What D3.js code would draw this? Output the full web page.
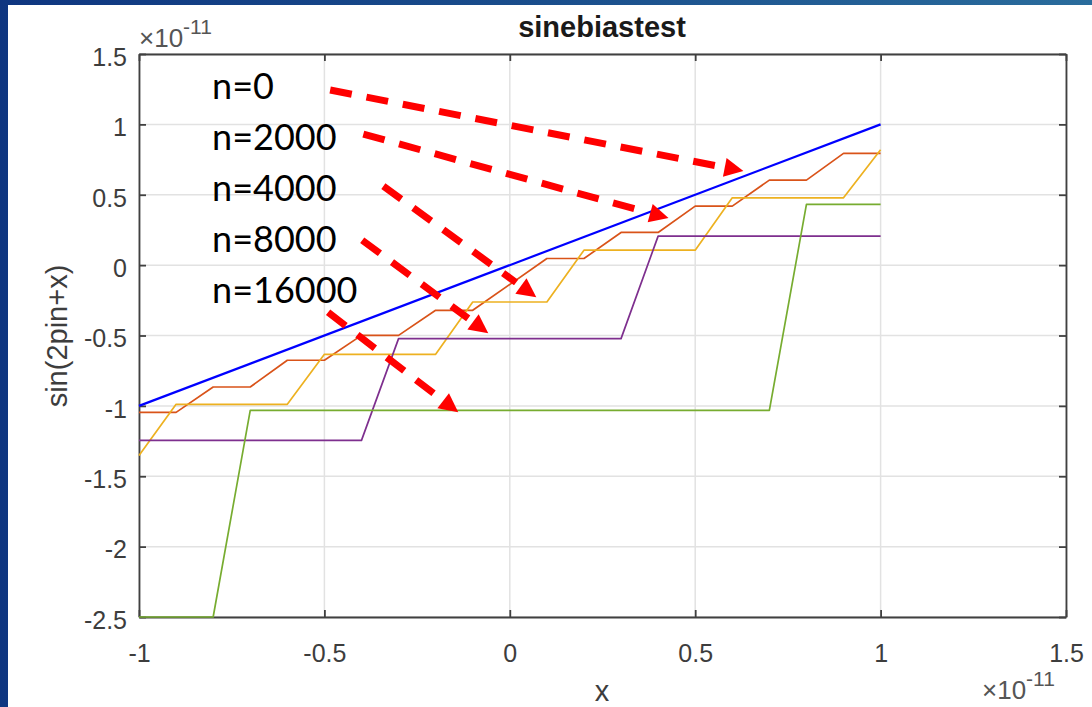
<!DOCTYPE html>
<html><head><meta charset="utf-8">
<script src="https://cdn.jsdelivr.net/npm/d3@7"></script>
<style>body{margin:0;background:#fff}svg{display:block}</style>
</head><body>
<svg id="c" width="1092" height="707"></svg>
<script>
// ---- data (units of 1e-11) ----
const xTicks = [-1, -0.5, 0, 0.5, 1, 1.5];
const yTicks = [-2.5, -2, -1.5, -1, -0.5, 0, 0.5, 1, 1.5];
const seriesNames = ["n=0", "n=2000", "n=4000", "n=8000", "n=16000"];
const seriesColors = ["#0000ff", "#d95319", "#edb120", "#7e2f8e", "#77ac30"];
const n0 = [[-1, -1], [1, 1]];
const n2000 = [[-1,-1.046],[-0.9,-1.046],[-0.8,-0.866],[-0.7,-0.866],[-0.6,-0.676],[-0.5,-0.676],
  [-0.4,-0.499],[-0.3,-0.499],[-0.2,-0.321],[-0.1,-0.321],[0.1,0.047],[0.2,0.047],[0.3,0.232],
  [0.4,0.232],[0.5,0.419],[0.6,0.419],[0.7,0.604],[0.8,0.604],[0.9,0.794],[1.0,0.794]];
const n4000 = [[-1,-1.352],[-0.9,-0.989],[-0.6,-0.989],[-0.5,-0.634],[-0.2,-0.634],[-0.1,-0.262],
  [0.1,-0.262],[0.2,0.106],[0.5,0.106],[0.6,0.478],[0.9,0.478],[1.0,0.82]];
const n8000 = [[-1,-1.245],[-0.4,-1.245],[-0.3,-0.522],[0.3,-0.522],[0.4,0.206],[1,0.206]];
const n16000 = [[-1,-2.5],[-0.8,-2.5],[-0.7,-1.032],[0.7,-1.032],[0.8,0.431],[1,0.431]];
const seriesData = [n0, n2000, n4000, n8000, n16000];
// annotation labels (data coords of text start / baseline)
const labelPos = [[-0.803, 1.18], [-0.803, 0.817], [-0.803, 0.455], [-0.803, 0.092], [-0.803, -0.271]];
// annotation arrows: tail and tip in data coords
const arrowTail = [[-0.4845, 1.244], [-0.395, 0.931], [-0.341, 0.561], [-0.398, 0.177], [-0.490, -0.335]];
const arrowTip  = [[0.630, 0.668], [0.428, 0.334], [0.0715, -0.228], [-0.058, -0.484], [-0.139, -1.046]];

const svg = d3.select("#c");
const W = 1092, H = 707;
const defs = svg.append("defs");
const grad = defs.append("linearGradient").attr("id","bg").attr("x1","0").attr("x2","1").attr("y1","0").attr("y2","0");
grad.append("stop").attr("offset","0").attr("stop-color","#0f3680");
grad.append("stop").attr("offset","0.5").attr("stop-color","#1a4e8c");
grad.append("stop").attr("offset","1").attr("stop-color","#2a6c9c");
svg.append("rect").attr("width",W).attr("height",H).attr("fill","url(#bg)");
svg.append("rect").attr("x",8).attr("y",5).attr("width",W-8).attr("height",H-5).attr("fill","#fff");

const L = 139, R = 1066, T = 54, B = 617;
const x = d3.scaleLinear().domain([-1, 1.5]).range([L, R]);
const y = d3.scaleLinear().domain([-2.5, 1.5]).range([B, T]);

const font = "'Liberation Sans', Arial, Helvetica, sans-serif";
const tickCol = "#3d3d3d";
const fmt = d => String(d);

// grid
const grid = svg.append("g").attr("stroke","#e2e2e2").attr("stroke-width",1.5);
grid.selectAll("line.gx").data(xTicks).join("line")
  .attr("x1",d=>x(d)).attr("x2",d=>x(d)).attr("y1",T).attr("y2",B);
grid.selectAll("line.gy").data(yTicks).join("line")
  .attr("y1",d=>y(d)).attr("y2",d=>y(d)).attr("x1",L).attr("x2",R);

function styleAxis(g){
  g.attr("font-size",null).attr("font-family",null);
  g.select(".domain").attr("stroke","#404040").attr("stroke-width",1.8);
  g.selectAll(".tick line").attr("stroke","#404040").attr("stroke-width",1.8);
  g.selectAll(".tick text").attr("fill",tickCol).style("font-family",font).style("font-size","25px");
}
const xAx = svg.append("g").attr("transform",`translate(0,${B})`)
  .call(d3.axisBottom(x).tickValues(xTicks).tickSizeInner(-7).tickSizeOuter(0).tickPadding(27).tickFormat(fmt));
styleAxis(xAx);
const yAx = svg.append("g").attr("transform",`translate(${L},0)`)
  .call(d3.axisLeft(y).tickValues(yTicks).tickSizeInner(-7).tickSizeOuter(0).tickPadding(12).tickFormat(fmt));
styleAxis(yAx); yAx.selectAll(".tick text").attr("dy","0.45em");
const xTop = svg.append("g").attr("transform",`translate(0,${T})`)
  .call(d3.axisTop(x).tickValues(xTicks).tickSizeInner(-7).tickSizeOuter(0).tickFormat(""));
styleAxis(xTop);
const yRight = svg.append("g").attr("transform",`translate(${R},0)`)
  .call(d3.axisRight(y).tickValues(yTicks).tickSizeInner(-7).tickSizeOuter(0).tickFormat(""));
styleAxis(yRight);

// series
const line = d3.line().x(d=>x(d[0])).y(d=>y(d[1]));
svg.append("g").attr("fill","none").selectAll("path").data(seriesData).join("path")
  .attr("d", line)
  .attr("stroke",(d,i)=>seriesColors[i])
  .attr("stroke-width",(d,i)=> i===0 ? 2.2 : 1.7)
  .attr("stroke-linejoin","round");

// title & labels
svg.append("text").attr("x",602).attr("y",37).attr("text-anchor","middle")
  .style("font-family",font).style("font-size","29px").style("font-weight","bold").attr("fill","#1a1a1a")
  .text("sinebiastest");
svg.append("text").attr("x",602).attr("y",701).attr("text-anchor","middle")
  .style("font-family",font).style("font-size","29px").attr("fill",tickCol).text("x");
svg.append("text").attr("transform","translate(67,336) rotate(-90)").attr("text-anchor","middle")
  .style("font-family",font).style("font-size","29px").attr("fill",tickCol).text("sin(2pin+x)");

function expLabel(px, py){
  const t = svg.append("text").attr("x",px).attr("y",py)
    .style("font-family",font).style("font-size","26px").attr("fill","#555");
  t.append("tspan").text("\u00d710");
  t.append("tspan").attr("dy",-13).style("font-size","21px").text("-11");
}
expLabel(139, 47);
expLabel(982, 699);

// annotations
const ann = svg.append("g");
ann.selectAll("text").data(seriesNames).join("text")
  .attr("x",(d,i)=>x(labelPos[i][0])).attr("y",(d,i)=>y(labelPos[i][1]))
  .style("font-family","Lato, 'Open Sans', sans-serif").style("font-size","36px").attr("fill","#000")
  .text(d=>d);
const headLen = 19, headHalf = 9.5;
arrowTail.forEach((t,i)=>{
  const x0 = x(t[0]), y0 = y(t[1]), x1 = x(arrowTip[i][0]), y1 = y(arrowTip[i][1]);
  const dx = x1-x0, dy = y1-y0, len = Math.hypot(dx,dy), ux = dx/len, uy = dy/len;
  const bx = x1-ux*headLen, by = y1-uy*headLen;
  ann.append("line").attr("x1",x0).attr("y1",y0).attr("x2",bx-ux*6).attr("y2",by-uy*6)
    .attr("stroke","#ff0000").attr("stroke-width",7).attr("stroke-dasharray","22 15");
  ann.append("path").attr("fill","#ff0000")
    .attr("d",`M${x1},${y1}L${bx-uy*headHalf},${by+ux*headHalf}L${bx+uy*headHalf},${by-ux*headHalf}Z`);
});
</script>
</body></html>
